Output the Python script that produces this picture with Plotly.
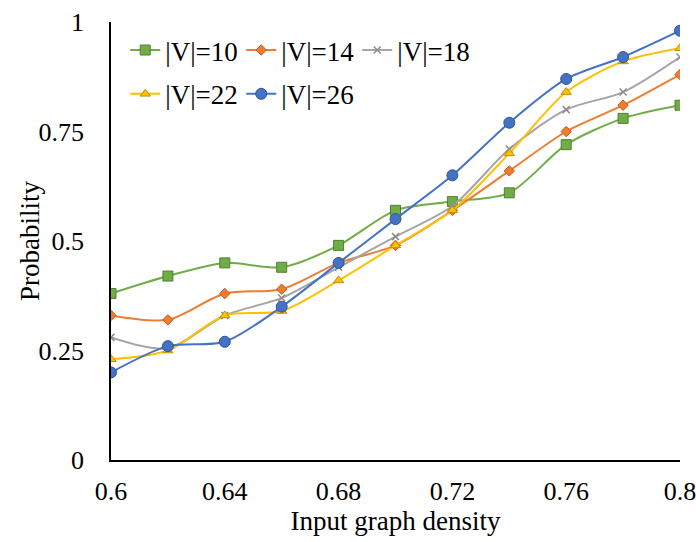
import plotly.graph_objects as go

density = [0.60, 0.62, 0.64, 0.66, 0.68, 0.70, 0.72, 0.74, 0.76, 0.78, 0.80]

v10 = [0.38, 0.42, 0.45, 0.44, 0.49, 0.57, 0.59, 0.61, 0.72, 0.78, 0.81]
v14 = [0.33, 0.32, 0.38, 0.39, 0.45, 0.49, 0.57, 0.66, 0.75, 0.81, 0.88]
v18 = [0.28, 0.255, 0.33, 0.37, 0.44, 0.51, 0.58, 0.71, 0.80, 0.84, 0.92]
v22 = [0.23, 0.25, 0.33, 0.34, 0.41, 0.49, 0.57, 0.70, 0.84, 0.91, 0.94]
v26 = [0.20, 0.26, 0.27, 0.35, 0.45, 0.55, 0.65, 0.77, 0.87, 0.92, 0.98]

x_ticks = [0.60, 0.64, 0.68, 0.72, 0.76, 0.80]
x_tick_text = ["0.6", "0.64", "0.68", "0.72", "0.76", "0.8"]
y_ticks = [0, 0.25, 0.5, 0.75, 1]
y_tick_text = ["0", "0.25", "0.5", "0.75", "1"]

series = [
    ("|V|=10", v10, "#70AD47", dict(symbol="square", size=10, line=dict(color="#507E32", width=1)), "legend"),
    ("|V|=14", v14, "#ED7D31", dict(symbol="diamond", size=8, line=dict(color="#C55A11", width=1)), "legend"),
    ("|V|=18", v18, "#A5A5A5", dict(symbol="x-thin", size=7, line=dict(color="#8C8C8C", width=1.5)), "legend"),
    ("|V|=22", v22, "#FFC000", dict(symbol="triangle-up", size=9, line=dict(color="#BF9000", width=1)), "legend2"),
    ("|V|=26", v26, "#4472C4", dict(symbol="circle", size=11, line=dict(color="#2F5597", width=1)), "legend2"),
]

fig = go.Figure()
for name, vals, color, marker, leg in series:
    fig.add_trace(go.Scatter(
        x=density, y=vals, name=name, mode="lines+markers",
        line=dict(color=color, width=2, shape="spline", smoothing=0.8),
        marker=dict(color=color, **marker),
        legend=leg,
    ))

font_family = "Liberation Serif, Times New Roman, serif"
legend_style = dict(
    orientation="h", bgcolor="rgba(0,0,0,0)",
    font=dict(family=font_family, size=27, color="#000"),
    itemwidth=30, tracegroupgap=0,
    entrywidth=71, entrywidthmode="pixels",
    xanchor="left", yanchor="middle",
)

fig.update_layout(
    width=696, height=542,
    margin=dict(l=111, r=16, t=22, b=82),
    paper_bgcolor="white", plot_bgcolor="white",
    font=dict(family=font_family, size=26, color="#000"),
    legend=dict(x=0.025, y=0.935, **legend_style),
    legend2=dict(x=0.025, y=0.835, **legend_style),
    xaxis=dict(
        range=[0.6, 0.8], tickvals=x_ticks, ticktext=x_tick_text,
        showgrid=False, zeroline=False, showline=True, linecolor="#000", linewidth=1.5,
        ticks="", tickfont=dict(size=26), ticklabelstandoff=7, automargin=False,
        ticklabeloverflow="allow",
        title=dict(text="Input graph density", font=dict(size=27), standoff=4),
    ),
    yaxis=dict(
        range=[0, 1], tickvals=y_ticks, ticktext=y_tick_text,
        showgrid=False, zeroline=False, showline=True, linecolor="#000", linewidth=1.5,
        ticks="", tickfont=dict(size=26), ticklabelstandoff=20, automargin=False,
        ticklabeloverflow="allow",
    ),
    annotations=[dict(
        text="Probability", textangle=-90, showarrow=False,
        xref="paper", yref="paper", x=-0.1424, y=0.5,
        xanchor="center", yanchor="middle",
        font=dict(family=font_family, size=27, color="#000"),
    )],
)

fig.write_html("out.html")
